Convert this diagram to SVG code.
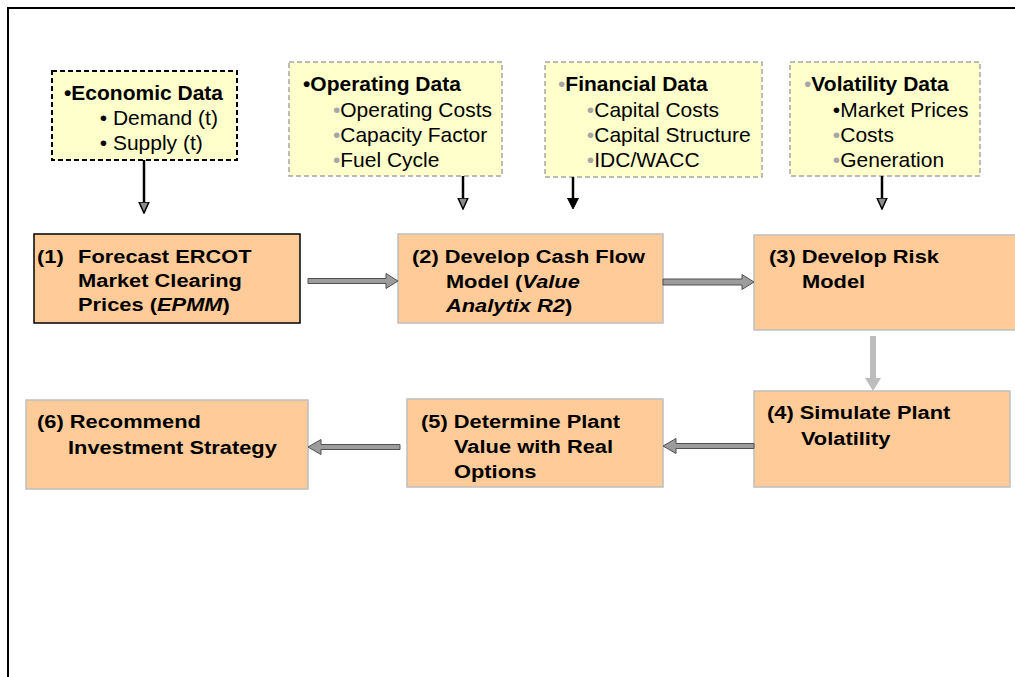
<svg xmlns="http://www.w3.org/2000/svg" width="1015" height="677" viewBox="0 0 1015 677">
  <style>
    .frame { fill: none; stroke: #000; stroke-width: 2; }
    .data { fill: #FFFFCC; stroke: #A6A6A6; stroke-width: 1.5; stroke-dasharray: 5 3; }
    .data.key { stroke: #000; stroke-width: 2; }
    .step { fill: #FFCC99; stroke: #BFBFBF; stroke-width: 1.5; }
    .step.key { stroke: #000; }
    .dt { font-family: "Liberation Sans", Arial, sans-serif; font-size: 20px; fill: #000; }
    .dt .h { font-weight: bold; }
    .dim { fill: #A6A6A6; }
    .st { font-family: "Liberation Sans", Arial, sans-serif; font-size: 19px; font-weight: bold; fill: #000; }
    .it { font-style: italic; }
    .feed { stroke: #000; stroke-width: 2.5; fill: none; }
    .flow { fill: #9C9C9C; stroke: #505050; stroke-width: 1; }
    .down { fill: #BDBDBD; stroke: none; }
  </style>
  <defs>
    <marker id="headOpen" markerUnits="userSpaceOnUse" markerWidth="12" markerHeight="12" viewBox="0 0 12 12" refX="0.5" refY="6" orient="auto">
      <path d="M0.5,1 L11.5,6 L0.5,11 Z" fill="#8C8C8C" stroke="#000" stroke-width="1.5"/>
    </marker>
    <marker id="headSolid" markerUnits="userSpaceOnUse" markerWidth="12" markerHeight="12" viewBox="0 0 12 12" refX="0.5" refY="6" orient="auto">
      <path d="M0.5,0.5 L11.5,6 L0.5,11.5 Z" fill="#000" stroke="#000" stroke-width="1"/>
    </marker>
  </defs>

  <rect class="frame" x="8" y="8" width="1020" height="690"/>

  <!-- input data boxes -->
  <g id="economic-data">
    <rect class="data key" x="52" y="71" width="185" height="89"/>
    <text class="dt" transform="translate(64,100) scale(1.05,1)">
      <tspan class="h">•Economic Data</tspan>
      <tspan x="34" y="25">• Demand (t)</tspan>
      <tspan x="34" y="50">• Supply (t)</tspan>
    </text>
  </g>
  <g id="operating-data">
    <rect class="data" x="289" y="62" width="213" height="114"/>
    <text class="dt" transform="translate(303,91) scale(1.05,1)">
      <tspan class="h">•Operating Data</tspan>
      <tspan x="28.5" y="26"><tspan class="dim">•</tspan>Operating Costs</tspan>
      <tspan x="28.5" y="51"><tspan class="dim">•</tspan>Capacity Factor</tspan>
      <tspan x="28.5" y="76"><tspan class="dim">•</tspan>Fuel Cycle</tspan>
    </text>
  </g>
  <g id="financial-data">
    <rect class="data" x="545" y="62" width="217" height="115"/>
    <text class="dt" transform="translate(558,91) scale(1.05,1)">
      <tspan class="dim">•</tspan><tspan class="h">Financial Data</tspan>
      <tspan x="27.5" y="26"><tspan class="dim">•</tspan>Capital Costs</tspan>
      <tspan x="27.5" y="51"><tspan class="dim">•</tspan>Capital Structure</tspan>
      <tspan x="27.5" y="76"><tspan class="dim">•</tspan>IDC/WACC</tspan>
    </text>
  </g>
  <g id="volatility-data">
    <rect class="data" x="790" y="62" width="190" height="114"/>
    <text class="dt" transform="translate(804,91) scale(1.05,1)">
      <tspan class="dim">•</tspan><tspan class="h">Volatility Data</tspan>
      <tspan x="27.5" y="26">•Market Prices</tspan>
      <tspan x="27.5" y="51"><tspan class="dim">•</tspan>Costs</tspan>
      <tspan x="27.5" y="76"><tspan class="dim">•</tspan>Generation</tspan>
    </text>
  </g>

  <!-- process steps -->
  <g id="step1">
    <rect class="step key" x="34" y="234" width="266" height="89"/>
    <text class="st" transform="translate(37,263) scale(1.15,1)">
      <tspan>(1)</tspan><tspan x="35.7">Forecast ERCOT</tspan>
      <tspan x="35.7" y="24">Market Clearing</tspan>
      <tspan x="35.7" y="48">Prices (<tspan class="it">EPMM</tspan>)</tspan>
    </text>
  </g>
  <g id="step2">
    <rect class="step" x="398" y="234" width="265" height="89"/>
    <text class="st" transform="translate(412,263) scale(1.15,1)">
      <tspan>(2) Develop Cash Flow</tspan>
      <tspan x="29.5" y="25">Model (<tspan class="it">Value</tspan></tspan>
      <tspan x="29.5" y="49"><tspan class="it">Analytix R2</tspan>)</tspan>
    </text>
  </g>
  <g id="step3">
    <rect class="step" x="754" y="235" width="270" height="95"/>
    <text class="st" transform="translate(769,263) scale(1.15,1)">
      <tspan>(3) Develop Risk</tspan>
      <tspan x="28.7" y="25">Model</tspan>
    </text>
  </g>
  <g id="step4">
    <rect class="step" x="754" y="391" width="256" height="96"/>
    <text class="st" transform="translate(767,419) scale(1.15,1)">
      <tspan>(4) Simulate Plant</tspan>
      <tspan x="29.5" y="26">Volatility</tspan>
    </text>
  </g>
  <g id="step5">
    <rect class="step" x="407" y="399" width="256" height="88"/>
    <text class="st" transform="translate(421,428) scale(1.15,1)">
      <tspan>(5) Determine Plant</tspan>
      <tspan x="28.7" y="25">Value with Real</tspan>
      <tspan x="28.7" y="50">Options</tspan>
    </text>
  </g>
  <g id="step6">
    <rect class="step" x="26" y="400" width="282" height="89"/>
    <text class="st" transform="translate(37,428) scale(1.15,1)">
      <tspan>(6) Recommend</tspan>
      <tspan x="27" y="26">Investment Strategy</tspan>
    </text>
  </g>

  <!-- connectors -->
  <g id="connectors">
    <line class="feed" x1="144" y1="160" x2="144" y2="202" marker-end="url(#headOpen)"/>
    <line class="feed" x1="463" y1="176" x2="463" y2="198" marker-end="url(#headOpen)"/>
    <line class="feed" x1="573" y1="177" x2="573" y2="198" marker-end="url(#headSolid)"/>
    <line class="feed" x1="882" y1="176" x2="882" y2="198" marker-end="url(#headOpen)"/>

    <path class="flow" d="M308,278.5 H386 V273.5 L398,281 L386,288.5 V283.5 H308 Z"/>
    <path class="flow" d="M663,279 H742 V274.5 L754,282 L742,289.5 V285 H663 Z"/>
    <path class="flow" d="M754,443.5 H676 V438.5 L663,446 L676,453.5 V448.5 H754 Z"/>
    <path class="flow" d="M400,444.5 H321 V439.5 L308,447 L321,454.5 V449.5 H400 Z"/>

    <path class="down" d="M870,336 H876 V378 H881 L873,391 L865,378 H870 Z"/>
  </g>
</svg>
